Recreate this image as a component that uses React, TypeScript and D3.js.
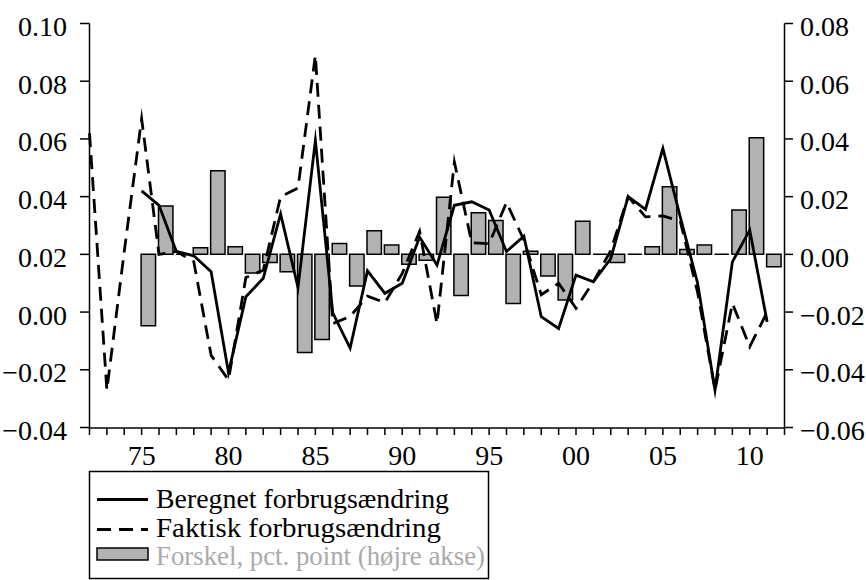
import React from "react";
import * as d3 from "d3";

const years = [1972, 1973, 1974, 1975, 1976, 1977, 1978, 1979, 1980, 1981, 1982, 1983, 1984, 1985, 1986, 1987, 1988, 1989, 1990, 1991, 1992, 1993, 1994, 1995, 1996, 1997, 1998, 1999, 2000, 2001, 2002, 2003, 2004, 2005, 2006, 2007, 2008, 2009, 2010, 2011];

// Faktisk forbrugsændring (1972-2011), left axis
const faktisk = [0.062, -0.027, 0.021, 0.067, 0.020, 0.021, 0.0175, -0.015, -0.0235, 0.012, 0.0145, 0.040, 0.043, 0.089, -0.004, -0.0015, 0.0055, 0.0033, 0.0134, 0.028, -0.004, 0.052, 0.024, 0.0237, 0.038, 0.025, 0.006, 0.010, 0.0013, 0.0105, 0.0213, 0.040, 0.033, 0.0333, 0.0315, 0.0068, -0.027, 0.003, -0.012, 0.000];

// Beregnet forbrugsændring (1975-2011), left axis
const beregnetYears = years.slice(3);
const beregnet = [0.042, 0.037, 0.021, 0.0195, 0.014, -0.021, 0.0053, 0.0117, 0.034, 0.0085, 0.0595, -0.0003, -0.0125, 0.0143, 0.0065, 0.010, 0.026, 0.0163, 0.037, 0.0382, 0.0354, 0.021, 0.0263, -0.0016, -0.0057, 0.0128, 0.0105, 0.0185, 0.040, 0.0356, 0.0567, 0.033, 0.010, -0.027, 0.0174, 0.0284, -0.0034];

// Forskel, pct. point (1975-2011), right axis
const forskel = [-0.0247, 0.0168, 0.0, 0.0023, 0.029, 0.0026, -0.0065, -0.0028, -0.006, -0.034, -0.0295, 0.0038, -0.011, 0.0082, 0.0032, -0.0034, -0.002, 0.0198, -0.0143, 0.0144, 0.0117, -0.017, 0.0011, -0.0075, -0.0158, 0.0115, 0.0, -0.0028, 0.0, 0.0026, 0.0234, 0.0017, 0.0032, 0.0, 0.0154, 0.0404, -0.0043];

const leftTicks = [-0.04, -0.02, 0.0, 0.02, 0.04, 0.06, 0.08, 0.10];
const rightTicks = [-0.06, -0.04, -0.02, 0.0, 0.02, 0.04, 0.06, 0.08];
const labelYears = [1975, 1980, 1985, 1990, 1995, 2000, 2005, 2010];
const tickYears = [...years, 2012];

const legendLabels = ["Beregnet forbrugsændring", "Faktisk forbrugsændring", "Forskel, pct. point (højre akse)"];

const FONT = "'Liberation Serif', 'Times New Roman', serif";

export default function App() {
  const W = 866, H = 580;
  const x = d3.scaleLinear().domain([1972, 2012]).range([89.5, 784.5]);
  const yL = d3.scaleLinear().domain([-0.04, 0.1]).range([427.5, 23.5]);
  const yR = d3.scaleLinear().domain([-0.06, 0.08]).range([427.5, 23.5]);
  const fmt = d3.format(".2f");
  const step = x(1973) - x(1972);
  const barW = step * 0.83;

  const dashedPath = d3.line<number>().x((_, i) => x(years[i])).y((d) => yL(d))(faktisk) || "";
  const solidPath = d3.line<number>().x((_, i) => x(beregnetYears[i])).y((d) => yL(d))(beregnet) || "";

  const y0 = yR(0);
  const fontSize = 28;

  return (
    <svg width={W} height={H} style={{ position: "absolute", left: 0, top: 0, background: "#fff" }} fontFamily={FONT}>
      {/* bars */}
      {forskel.map((v, i) => {
        const bx = x(beregnetYears[i]) - 0.5;
        const by = yR(v);
        const d = `M${bx},${y0}V${by}H${bx + barW}V${y0}Z`;
        return <path key={i} d={d} fill="#b2b2b2" stroke="#000" strokeWidth={1.5} />;
      })}
      {/* lines */}
      <path d={dashedPath} fill="none" stroke="#000" strokeWidth={2.8} strokeDasharray="14 8" strokeLinejoin="miter" strokeMiterlimit={10} />
      <path d={solidPath} fill="none" stroke="#000" strokeWidth={2.8} strokeLinejoin="miter" strokeMiterlimit={10} />

      {/* axes */}
      <line x1={89.5} x2={89.5} y1={23.5} y2={428} stroke="#000" strokeWidth={1.5} />
      <line x1={784.5} x2={784.5} y1={23.5} y2={428} stroke="#000" strokeWidth={1.5} />
      <line x1={89} x2={785} y1={428} y2={428} stroke="#000" strokeWidth={1.5} />
      {leftTicks.map((t) => (
        <g key={"l" + t}>
          <line x1={80} x2={89.5} y1={yL(t)} y2={yL(t)} stroke="#000" strokeWidth={1.5} />
          <text x={67} y={yL(t) + 12.5} textAnchor="end" fontSize={fontSize} fill="#000">{fmt(t)}</text>
        </g>
      ))}
      {rightTicks.map((t) => (
        <g key={"r" + t}>
          <line x1={784.5} x2={793} y1={yR(t)} y2={yR(t)} stroke="#000" strokeWidth={1.5} />
          <text x={800} y={yR(t) + 12.5} textAnchor="start" fontSize={fontSize} fill="#000">{fmt(t)}</text>
        </g>
      ))}
      {tickYears.map((yr) => (
        <line key={"t" + yr} x1={x(yr)} x2={x(yr)} y1={428} y2={435} stroke="#000" strokeWidth={1.5} />
      ))}
      {labelYears.map((yr) => (
        <text key={"x" + yr} x={x(yr)} y={465} textAnchor="middle" fontSize={fontSize} fill="#000">
          {String(yr % 100).padStart(2, "0")}
        </text>
      ))}

      {/* legend */}
      <rect x={89.5} y={471.5} width={399} height={107} fill="#fff" stroke="#000" strokeWidth={1.5} />
      <line x1={97} x2={148} y1={499.5} y2={499.5} stroke="#000" strokeWidth={2.8} />
      <text x={156} y={508} fontSize={fontSize} fill="#000" textLength={293} lengthAdjust="spacingAndGlyphs">{legendLabels[0]}</text>
      <line x1={97} x2={148} y1={529.5} y2={529.5} stroke="#000" strokeWidth={2.8} strokeDasharray="14 8" />
      <text x={156} y={537} fontSize={fontSize} fill="#000" textLength={285} lengthAdjust="spacingAndGlyphs">{legendLabels[1]}</text>
      <rect x={97} y={548} width={51} height={12} fill="#b2b2b2" stroke="#000" strokeWidth={1.5} />
      <text x={156} y={565} fontSize={fontSize} fill="#aaaaaa" textLength={329} lengthAdjust="spacingAndGlyphs">{legendLabels[2]}</text>
    </svg>
  );
}
